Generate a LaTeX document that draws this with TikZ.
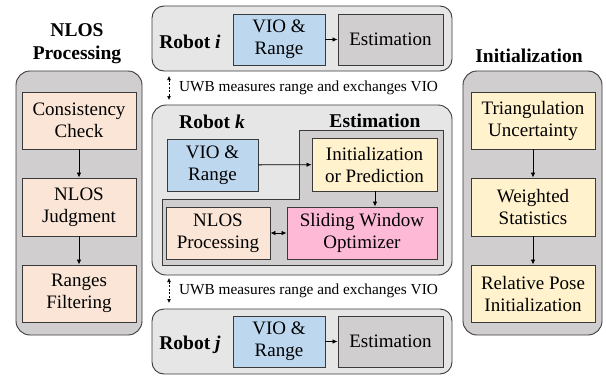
\documentclass[tikz,border=0pt]{standalone}
\usepackage{fontspec}
\setmainfont{Liberation Serif}
\usetikzlibrary{arrows.meta}
\definecolor{robotbg}{HTML}{E7E6E6}
\definecolor{panelbg}{HTML}{D0CECE}
\definecolor{estbg}{HTML}{D0CECE}
\definecolor{viobg}{HTML}{BDD7EE}
\definecolor{nlosbg}{HTML}{FBE5D6}
\definecolor{initbg}{HTML}{FFF2CC}
\definecolor{swobg}{HTML}{FDB9D6}
\definecolor{edge}{HTML}{3A3A3A}
\tikzset{
  boxtext/.style={font=\fontsize{19}{22}\selectfont, align=center},
  blk/.style={boxtext, draw=edge, line width=0.9pt, inner sep=0pt},
  panel/.style={draw=edge, line width=0.9pt, rounded corners=14pt},
  ttl/.style={font=\fontsize{19.5}{23}\selectfont\bfseries, align=center, inner sep=0pt},
  uwb/.style={font=\fontsize{15.3}{18}\selectfont, anchor=west, inner sep=0pt},
  flow/.style={-{Latex[length=5pt,width=4.5pt]}, line width=0.8pt, black},
  twoway/.style={{Latex[length=5pt,width=4.5pt]}-{Latex[length=5pt,width=4.5pt]}, line width=0.8pt, black},
  link/.style={{Latex[length=4pt,width=4pt]}-{Latex[length=4pt,width=4pt]}, line width=0.7pt, dash pattern=on 2pt off 1.5pt}
}
\begin{document}
\begin{tikzpicture}[x=1pt,y=-1pt]
\useasboundingbox (0,0) rectangle (606,378);

% ---- NLOS processing panel ----
\node[ttl] (nlostitle) at (77,44) {NLOS\\Processing};
\draw[panel, fill=panelbg] (16,71) rectangle (142,335);
\node[blk, fill=nlosbg, minimum width=114pt, minimum height=57pt] (cc) at (79,120.5) {Consistency\\Check};
\node[blk, fill=nlosbg, minimum width=114pt, minimum height=58pt] (nj) at (79,207) {NLOS\\Judgment};
\node[blk, fill=nlosbg, minimum width=114pt, minimum height=57pt] (rf) at (79,293.5) {Ranges\\Filtering};
\draw[flow] (cc) -- (nj);
\draw[flow] (nj) -- (rf);

% ---- Initialization panel ----
\node[ttl] (inittitle) at (529,56) {Initialization};
\draw[panel, fill=panelbg] (463,71) rectangle (602,335);
\node[blk, fill=initbg, minimum width=124pt, minimum height=57pt] (tu) at (533,120.5) {Triangulation\\Uncertainty};
\node[blk, fill=initbg, minimum width=124pt, minimum height=58pt] (ws) at (533,207) {Weighted\\Statistics};
\node[blk, fill=initbg, minimum width=124pt, minimum height=57pt] (rp) at (533,293.5) {Relative Pose\\Initialization};
\draw[flow] (tu) -- (ws);
\draw[flow] (ws) -- (rp);

% ---- Robot i ----
\draw[panel, fill=robotbg, rounded corners=12pt] (152,6) rectangle (452,71);
\node[ttl] (ri) at (190,42) {Robot \textit{i}};
\node[blk, fill=viobg, minimum width=92pt, minimum height=51pt] (vioi) at (279,39.5) {VIO \&\\Range};
\node[blk, fill=estbg, minimum width=105pt, minimum height=51pt] (esti) at (390.5,39.5) {Estimation};
\draw[flow] (vioi) -- (esti);

% ---- link i -- k ----
\coordinate (ua1) at (169,76);
\coordinate (ua2) at (169,100);
\draw[link] (ua1) -- (ua2);
\node[uwb] (u1) at (179,88) {UWB measures range and exchanges VIO};

% ---- Robot k ----
\draw[panel, fill=robotbg, rounded corners=14pt] (152,105) rectangle (452,275);
\node[ttl] (rk) at (212,122) {Robot \textit{k}};
\node[ttl] (esttitle) at (375,121) {Estimation};
\draw[draw=edge, line width=0.9pt, fill=estbg]
  (299,130) -- (443,130) -- (443,265) -- (162,265) -- (162,199) -- (299,199) -- cycle;
\node[blk, fill=viobg, minimum width=91pt, minimum height=52pt] (viok) at (212.5,165) {VIO \&\\Range};
\node[blk, fill=initbg, minimum width=125pt, minimum height=53pt] (ip) at (374.5,164.5) {Initialization\\or Prediction};
\node[blk, fill=nlosbg, minimum width=104pt, minimum height=52pt] (np) at (218,233) {NLOS\\Processing};
\node[blk, fill=swobg, minimum width=150pt, minimum height=52pt] (swo) at (362,233) {Sliding Window\\Optimizer};
\draw[flow] (viok) -- (ip);
\draw[flow] (ip.south) ++(0.5,0) coordinate (ipd) -- (ipd |- swo.north);
\draw[twoway] (np) -- (swo);

% ---- link k -- j ----
\coordinate (ub1) at (169,278);
\coordinate (ub2) at (169,303);
\draw[link] (ub1) -- (ub2);
\node[uwb] (u2) at (179,291) {UWB measures range and exchanges VIO};

% ---- Robot j ----
\draw[panel, fill=robotbg, rounded corners=12pt] (152,309) rectangle (452,374);
\node[ttl] (rj) at (190,345) {Robot \textit{j}};
\node[blk, fill=viobg, minimum width=92pt, minimum height=51pt] (vioj) at (279,341.5) {VIO \&\\Range};
\node[blk, fill=estbg, minimum width=105pt, minimum height=51pt] (estj) at (390.5,341.5) {Estimation};
\draw[flow] (vioj) -- (estj);
\end{tikzpicture}
\end{document}
